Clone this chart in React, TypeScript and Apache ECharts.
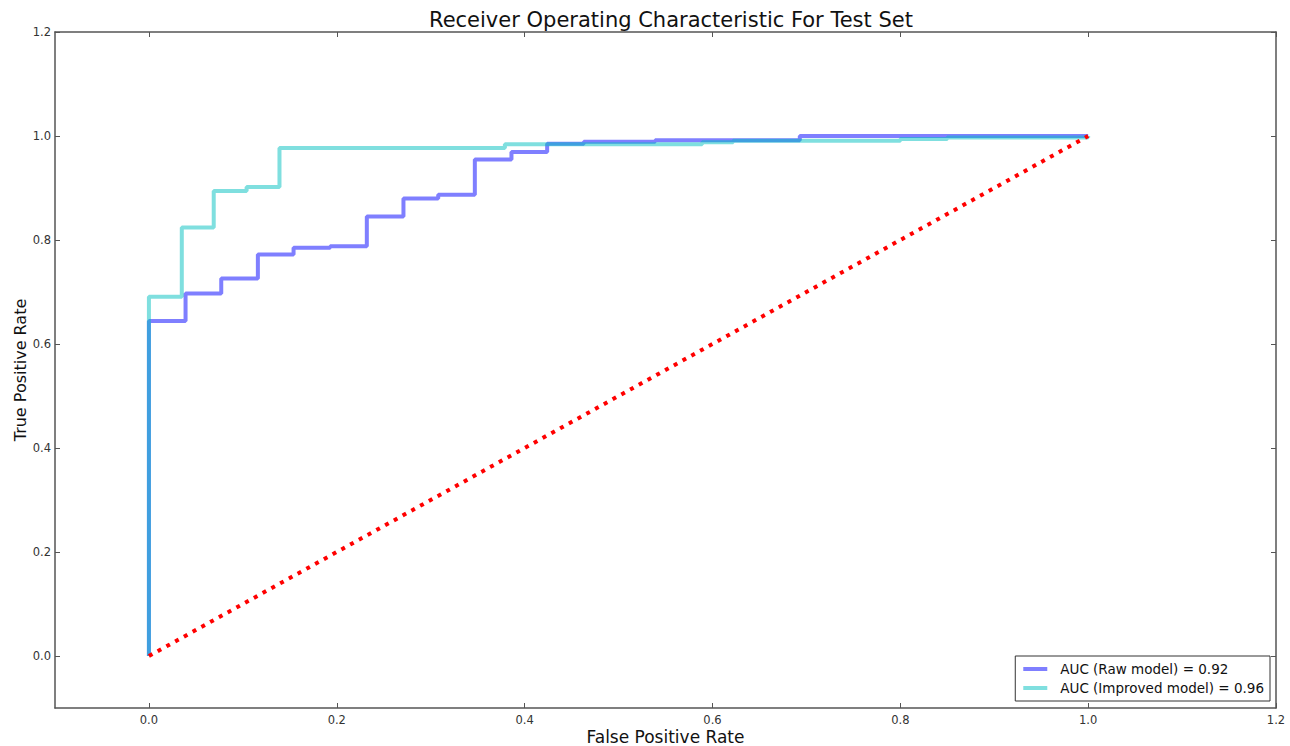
import React, { useEffect, useRef } from "react";
import * as echarts from "echarts";

const rawFpr = [0, 0, 0.039, 0.077, 0.116, 0.154, 0.193, 0.232, 0.271, 0.308, 0.347, 0.386, 0.424, 0.463, 0.539, 0.693, 1.0];
const rawTpr = [0, 0.644, 0.697, 0.726, 0.772, 0.785, 0.788, 0.845, 0.88, 0.887, 0.955, 0.969, 0.985, 0.989, 0.992, 1.0, 1.0];

const impFpr = [0, 0, 0.035, 0.069, 0.104, 0.139, 0.379, 0.589, 0.622, 0.8, 0.85, 1.0];
const impTpr = [0, 0.691, 0.824, 0.894, 0.902, 0.977, 0.984, 0.988, 0.991, 0.994, 0.997, 1.0];

const chanceX = [0, 1];
const chanceY = [0, 1];

const tickValues = [0, 0.2, 0.4, 0.6, 0.8, 1.0, 1.2];

const seriesNames = ["AUC (Raw model) = 0.92", "AUC (Improved model) = 0.96"];

const zip = (xs: number[], ys: number[]) => xs.map((x, i) => [x, ys[i]]);

export default function App() {
  const ref = useRef<HTMLDivElement>(null);
  useEffect(() => {
    if (!ref.current) return;
    const chart = echarts.init(ref.current, null, { renderer: "svg" });
    const axisColor = "#555";
    const labelStyle = { color: "#333", fontSize: 11.5, fontFamily: "DejaVu Sans" };
    const makeX = (pos: "bottom" | "top", showLabel: boolean) => ({
      type: "value",
      min: -0.1,
      max: 1.2,
      position: pos,
      name: showLabel ? "False Positive Rate" : "",
      nameLocation: "middle",
      nameGap: 20,
      nameMoveOverlap: false,
      nameTextStyle: { fontSize: 17, color: "#111", fontFamily: "DejaVu Sans" },
      axisLine: { show: true, onZero: false, lineStyle: { color: axisColor, width: 1.5 } },
      axisTick: { show: true, inside: true, length: 5, customValues: tickValues, lineStyle: { color: axisColor } },
      axisLabel: {
        show: showLabel,
        customValues: tickValues,
        margin: 6,
        formatter: (v: number) => v.toFixed(1),
        ...labelStyle,
      },
      splitLine: { show: false },
    });
    const makeY = (pos: "left" | "right", showLabel: boolean) => ({
      type: "value",
      min: -0.1,
      max: 1.2,
      position: pos,
      name: showLabel ? "True Positive Rate" : "",
      nameLocation: "middle",
      nameGap: 27,
      nameMoveOverlap: false,
      nameRotate: 90,
      nameTextStyle: { fontSize: 16, color: "#111", fontFamily: "DejaVu Sans" },
      axisLine: { show: true, onZero: false, lineStyle: { color: axisColor, width: 1.5 } },
      axisTick: { show: true, inside: true, length: 5, customValues: tickValues, lineStyle: { color: axisColor } },
      axisLabel: {
        show: showLabel,
        customValues: tickValues,
        margin: 4,
        formatter: (v: number) => v.toFixed(1),
        ...labelStyle,
      },
      splitLine: { show: false },
    });
    chart.setOption({
      animation: false,
      backgroundColor: "#fff",
      title: {
        text: "Receiver Operating Characteristic For Test Set",
        left: 424,
        top: 4,
        textStyle: { fontSize: 21, fontWeight: "normal", color: "#111", fontFamily: "DejaVu Sans" },
      },
      grid: { left: 55, right: 14, top: 32, bottom: 38, containLabel: false, outerBoundsMode: "none" },
      xAxis: [makeX("bottom", true), makeX("top", false)],
      yAxis: [makeY("left", true), makeY("right", false)],
      legend: {
        data: seriesNames.map((n) => ({ name: n, icon: "rect" })),
        orient: "vertical",
        right: 20,
        bottom: 45,
        itemWidth: 24,
        itemHeight: 4,
        itemGap: 5,
        padding: [6, 6, 6, 8],
        borderColor: "#333",
        borderWidth: 1,
        backgroundColor: "#fff",
        textStyle: { fontSize: 13.5, color: "#111", fontFamily: "DejaVu Sans", padding: [0, 0, 0, 8] },
      },
      series: [
        {
          name: seriesNames[0],
          type: "line",
          data: zip(rawFpr, rawTpr),
          step: "end",
          symbol: "none",
          lineStyle: { color: "rgba(0,0,255,0.5)", width: 4 },
          itemStyle: { color: "rgba(0,0,255,0.5)" },
          z: 2,
        },
        {
          name: seriesNames[1],
          type: "line",
          data: zip(impFpr, impTpr),
          step: "end",
          symbol: "none",
          lineStyle: { color: "rgba(0,191,191,0.5)", width: 4 },
          itemStyle: { color: "rgba(0,191,191,0.5)" },
          z: 3,
        },
        {
          name: "chance",
          type: "line",
          data: zip(chanceX, chanceY),
          symbol: "none",
          lineStyle: { color: "#ff0000", width: 4, type: [4, 6], cap: "butt" },
          z: 4,
        },
      ],
    });
    return () => chart.dispose();
  }, []);
  return (
    <div
      ref={ref}
      style={{ position: "fixed", left: 0, top: 0, width: 1290, height: 746 }}
    />
  );
}
